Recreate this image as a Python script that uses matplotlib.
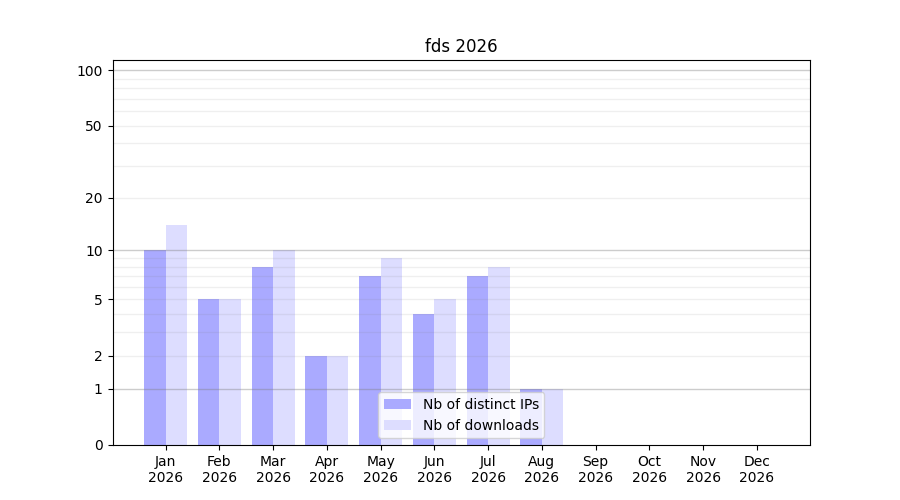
import numpy as np
import matplotlib
matplotlib.use('Agg')
import matplotlib.pyplot as plt

months = ['Jan', 'Feb', 'Mar', 'Apr', 'May', 'Jun', 'Jul', 'Aug', 'Sep', 'Oct', 'Nov', 'Dec']
year = 2026
distinct_ips = [10, 5, 8, 2, 7, 4, 7, 1, 0, 0, 0, 0]
downloads = [14, 5, 10, 2, 9, 5, 8, 1, 0, 0, 0, 0]

y_ticks = [0, 1, 2, 5, 10, 20, 50, 100]


def fwd(v):
    return np.log10(np.asarray(v, dtype=float) + 1)


def inv(v):
    return 10 ** np.asarray(v, dtype=float) - 1


fig, ax = plt.subplots(figsize=(9, 5), dpi=100)
x = np.arange(len(months))
w = 0.4

ax.bar(x - w / 2, distinct_ips, w, color='#aaaaff', label='Nb of distinct IPs')
ax.bar(x + w / 2, downloads, w, color='#ddddff', label='Nb of downloads')

ax.set_yscale('function', functions=(fwd, inv))
ax.set_ylim(0, 113.5)
ax.set_yticks(y_ticks)
ax.set_yticklabels([str(t) for t in y_ticks])
ax.minorticks_off()

# grid: darker at decades, lighter in between
for d in [1, 10, 100]:
    ax.axhline(d, color='gray', alpha=0.4, lw=1, zorder=1.5)
    for k in range(2, 10):
        if d * k < 113.5:
            ax.axhline(d * k, color='gray', alpha=0.12, lw=1, zorder=1.5)

ax.set_xticks(x)
ax.set_xticklabels([f'{m}\n{year}' for m in months])
ax.set_title(f'fds {year}')
ax.legend(loc='lower center')

plt.savefig('out.png')
